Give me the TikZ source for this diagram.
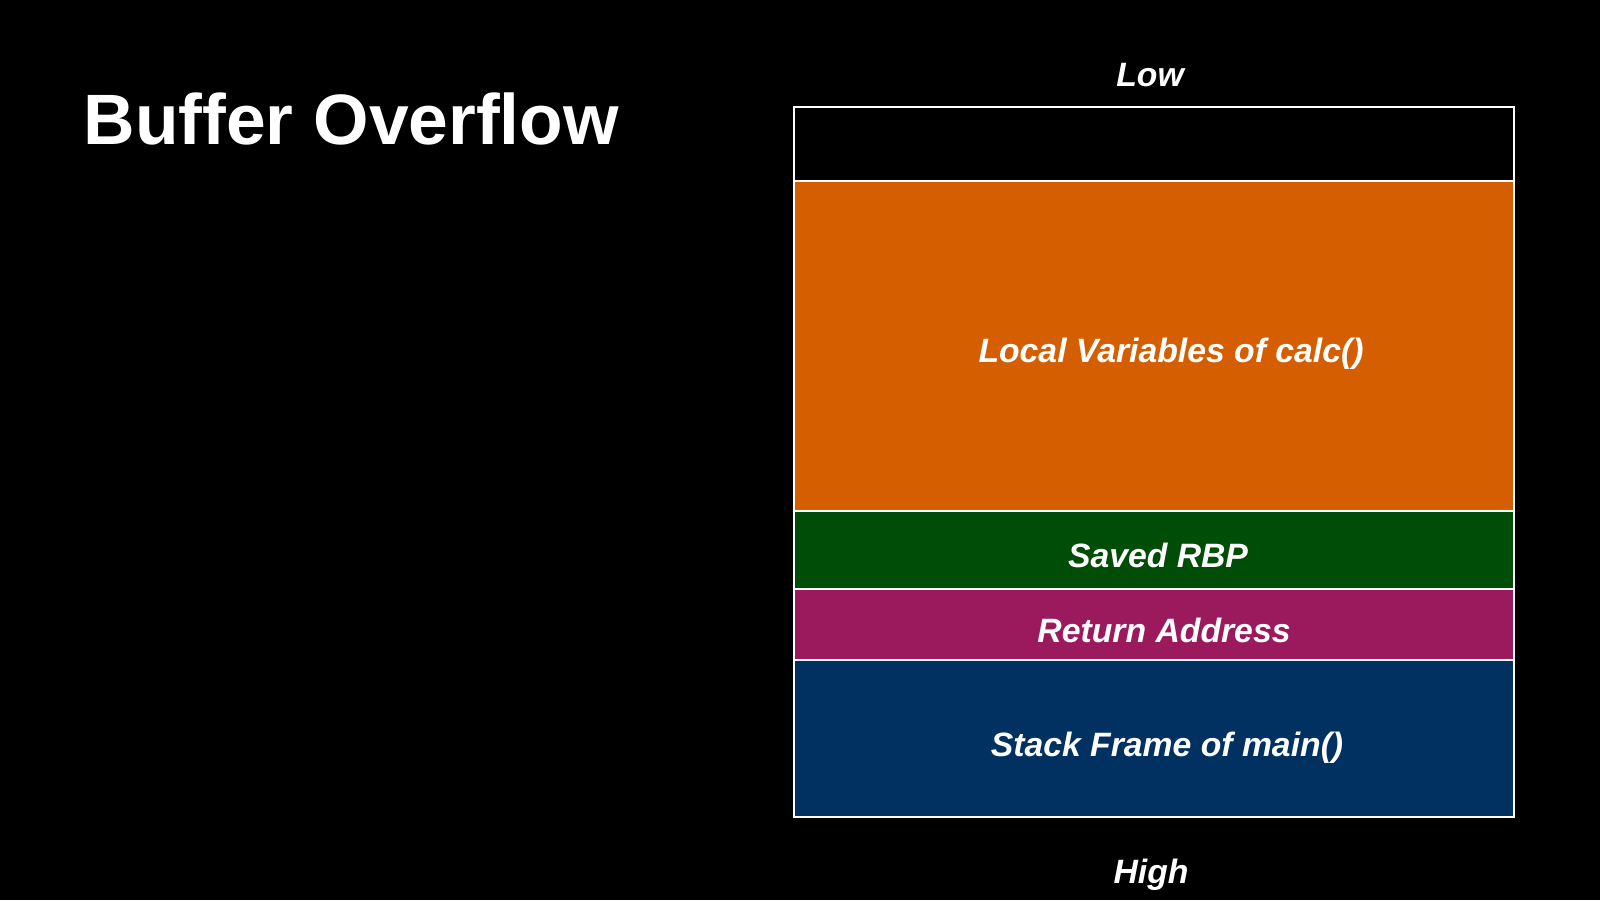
\documentclass[tikz,border=0pt]{standalone}
\usepackage{fontspec}
\setmainfont{Liberation Sans}
\usetikzlibrary{positioning}

\definecolor{calcorange}{RGB}{213,94,0}
\definecolor{rbpgreen}{RGB}{0,77,7}
\definecolor{retmagenta}{RGB}{155,26,94}
\definecolor{mainblue}{RGB}{0,49,96}

\begin{document}
\begin{tikzpicture}[node distance=0pt, text=white,
		font=\bfseries\itshape\fontsize{9.6}{11}\selectfont,
		cell/.style={draw=white!85, line width=0.4pt, minimum width=7.2cm, outer sep=0pt, inner sep=0pt}]
		\fill[black] (0,0) rectangle (16,-9);
		\useasboundingbox (0,0) rectangle (16,-9);
		\node[anchor=base west, inner sep=0pt, font=\bfseries\fontsize{20.3}{24}\selectfont] (title) at (0.83,-1.44) {Buffer Overflow};
		% stack, low addresses on top
		\node[cell, minimum height=0.74cm, fill=black] (free) at (11.54,-1.44) {};
		\node[cell, minimum height=3.3cm, fill=calcorange, below=of free,
			label={[xshift=0.17cm, yshift=-0.08cm]center:Local Variables of calc()}] (locals) {};
		\node[cell, minimum height=0.78cm, fill=rbpgreen, below=of locals,
			label={[xshift=0.04cm, yshift=-0.05cm]center:Saved RBP}] (rbp) {};
		\node[cell, minimum height=0.71cm, fill=retmagenta, below=of rbp,
			label={[xshift=0.10cm, yshift=-0.06cm]center:Return Address}] (ret) {};
		\node[cell, minimum height=1.57cm, fill=mainblue, below=of ret,
			label={[xshift=0.13cm, yshift=-0.09cm]center:Stack Frame of main()}] (mainframe) {};
		\node[anchor=base] (low) at (11.50,-0.86) {Low};
		\node[anchor=base] (high) at (11.51,-8.83) {High};
	\end{tikzpicture}
\end{document}
